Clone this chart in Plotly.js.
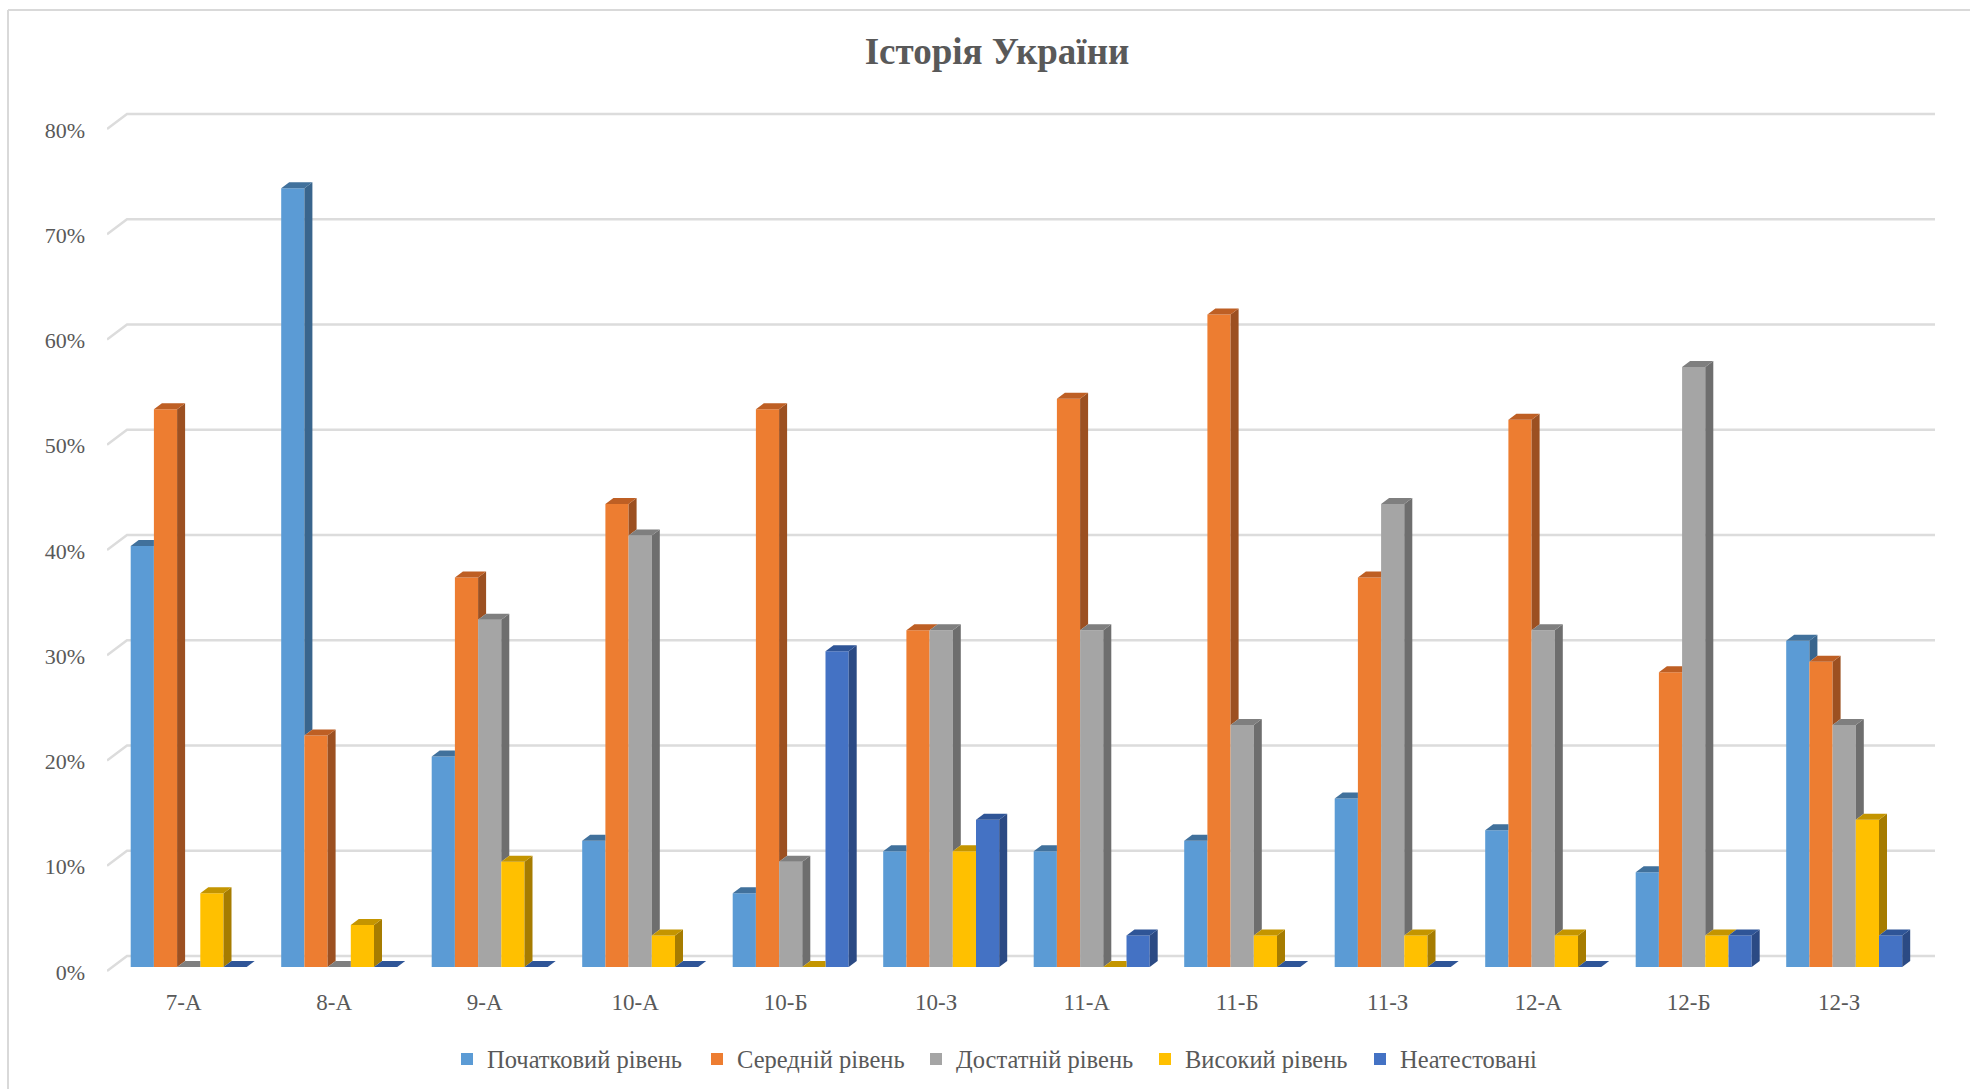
<!DOCTYPE html>
<html><head><meta charset="utf-8">
<script src="https://cdn.plot.ly/plotly-3.0.1.min.js"></script>
<style>html,body{margin:0;padding:0;background:#fff;overflow:hidden}#c{width:1970px;height:1089px}</style>
</head><body><div id="c"></div>
<script>
const categories = ['7-А','8-А','9-А','10-А','10-Б','10-З','11-А','11-Б','11-З','12-А','12-Б','12-З'];
const seriesNames = ['Початковий рівень','Середній рівень','Достатній рівень','Високий рівень','Неатестовані'];
const initialLevel = [40,74,20,12,7,11,11,12,16,13,9,31];
const middleLevel  = [53,22,37,44,53,32,54,62,37,52,28,29];
const goodLevel    = [0,0,33,41,10,32,32,23,44,32,57,23];
const highLevel    = [7,4,10,3,0,11,0,3,3,3,3,14];
const notTested    = [0,0,0,0,30,14,3,0,0,0,3,3];
const tickValues = [0,10,20,30,40,50,60,70,80];
const tickLabels = ['0%','10%','20%','30%','40%','50%','60%','70%','80%'];
const titleText = 'Історія України';

const seriesValues = [initialLevel, middleLevel, goodLevel, highLevel, notTested];
const frontColors = ['#5B9BD5','#ED7D31','#A5A5A5','#FFC000','#4472C4'];
const sideColors  = ['#39658D','#9C5021','#6E6E6E','#A67C00','#2B4A84'];
const topColors   = ['#41719C','#BE5F24','#7F7F7F','#C49500','#2F5597'];
const legendPx = [447, 697, 916, 1145, 1360];

const W = 1970, H = 1089;
const plotL = 107, plotR = 1935, plotT = 100, plotB = 975;
const base0 = 967, pxPerPct = 10.525, groupPitch = 150.5, groupCenter0 = 188.7, barPx = 23.2;
const xRange = [(plotL - groupCenter0) / groupPitch, (plotR - groupCenter0) / groupPitch];
const yRange = [(base0 - plotB) / pxPerPct, (base0 - plotT) / pxPerPct];
const barW = barPx / groupPitch;
const depthX = 8 / groupPitch, depthY = 6 / pxPerPct;

const data = [];
const n = seriesValues.length;
seriesValues.forEach((vals, k) => {
  data.push({type:'bar', name: seriesNames[k], legend: k ? 'legend' + (k + 1) : 'legend',
    x: categories.map((_, i) => i), y: vals,
    marker:{color: frontColors[k], line:{width:0}}, hoverinfo:'y+name'});
});
seriesValues.forEach((vals, k) => {
  const sx = [], sy = [], tx = [], ty = [];
  vals.forEach((v, i) => {
    const x0 = i + (k - n / 2) * barW, x1 = x0 + barW;
    const next = k < n - 1 ? seriesValues[k + 1][i] : 0;
    const nextCovers = k < n - 1;
    const from = nextCovers ? next : 0;
    if (v > from && v > 0) {
      sx.push(x1, x1, x1 + depthX, x1 + depthX, null);
      sy.push(from, v, v + depthY, from + depthY, null);
    }
    const clip = nextCovers && next > v;
    tx.push(x0, x1, clip ? x1 : x1 + depthX, x0 + depthX, null);
    ty.push(v, v, v + depthY, v + depthY, null);
  });
  data.push({type:'scatter', mode:'lines', x:sx, y:sy, fill:'toself', fillcolor:sideColors[k],
    line:{width:0}, showlegend:false, hoverinfo:'skip'});
  data.push({type:'scatter', mode:'lines', x:tx, y:ty, fill:'toself', fillcolor:topColors[k],
    line:{width:0}, showlegend:false, hoverinfo:'skip'});
});

const wallX = xRange[0] + 20 / groupPitch;
const shapes = tickValues.map(v => ({
  type:'path', layer:'below', xref:'x', yref:'y',
  path:`M${xRange[0]},${v - 4 / pxPerPct}L${wallX},${v + 11 / pxPerPct}L${xRange[1]},${v + 11 / pxPerPct}`,
  line:{color:'#DCDCDC', width:2.5}
}));
const px = p => (p - plotL) / (plotR - plotL), py = p => (plotB - p) / (plotB - plotT);
shapes.push({type:'line', xref:'paper', yref:'paper', x0:px(8), x1:px(1970), y0:py(10), y1:py(10), line:{color:'#D9D9D9', width:2}});
shapes.push({type:'line', xref:'paper', yref:'paper', x0:px(8), x1:px(8), y0:py(10), y1:py(1089), line:{color:'#D9D9D9', width:2}});

const layout = {
  width:W, height:H, paper_bgcolor:'#fff', plot_bgcolor:'rgba(0,0,0,0)',
  margin:{l:plotL, r:W - plotR, t:plotT, b:H - plotB, autoexpand:false},
  font:{family:'"Liberation Serif", serif', color:'#595959'},
  title:{text:titleText, x:997/W, xref:'container', xanchor:'center', y:1 - 51/H, yanchor:'middle', yref:'container',
    font:{family:'"Liberation Serif", serif', size:37, weight:700, color:'#595959'}},
  barmode:'group', bargap:1 - n * barW, bargroupgap:0,
  xaxis:{type:'linear', range:xRange, tickmode:'array', tickvals:categories.map((_, i) => i), ticktext:categories,
    showgrid:false, zeroline:false, showline:false, ticks:'', tickfont:{size:23, color:'#595959'},
    ticklabelstandoff:11, ticklabelshift:-5},
  yaxis:{range:yRange, tickmode:'array', tickvals:tickValues, ticktext:tickLabels,
    showgrid:false, zeroline:false, showline:false, ticks:'', tickfont:{size:22, color:'#595959'},
    ticklabelstandoff:21, ticklabelshift:5},
  shapes, showlegend:true
};
legendPx.forEach((p, k) => {
  layout[k ? 'legend' + (k + 1) : 'legend'] = {orientation:'h', x:px(p), xanchor:'left', y:py(1059), yanchor:'middle',
    font:{size:24.5, color:'#595959'}, bgcolor:'rgba(0,0,0,0)'};
});
Plotly.newPlot('c', data, layout, {displayModeBar:false, responsive:false});
</script></body></html>
